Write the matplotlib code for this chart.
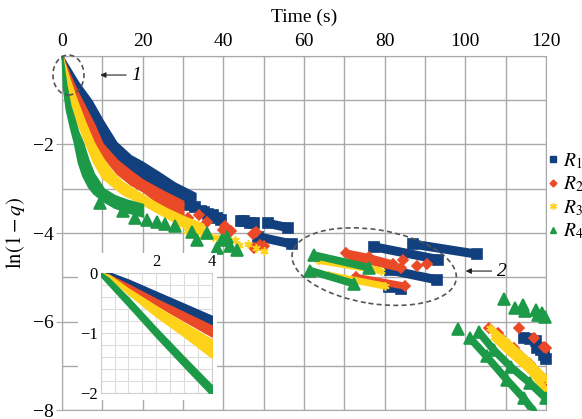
import numpy as np
import matplotlib.pyplot as plt
from matplotlib.patches import Ellipse, Rectangle
from matplotlib.transforms import IdentityTransform
from matplotlib.lines import Line2D

plt.rcParams['font.family'] = ['Liberation Serif', 'DejaVu Serif']
plt.rcParams['mathtext.fontset'] = 'stix'

# colours
c_r1 = '#123f7d'
c_r2 = '#ea4a28'
c_r3 = '#ffd21a'
c_r4 = '#1d9a47'
grid_c = '#a9a9a9'

# ---- dense bands (t, upper edge, lower edge) ----
r1_t = [0, 1, 2, 4, 7.2, 10, 13.4, 17, 20, 24, 28, 33]
r1_hi = [0, -0.15, -0.3, -0.6, -1.0, -1.45, -1.95, -2.25, -2.4, -2.63, -2.87, -3.1]
r1_lo = [0, -0.22, -0.45, -0.85, -1.43, -1.98, -2.33, -2.6, -2.8, -3.0, -3.2, -3.42]

r2_t = [0, 1, 2, 3.9, 6, 8, 10, 13.6, 17, 20, 25, 30]
r2_hi = [0, -0.22, -0.45, -0.83, -1.2, -1.56, -1.98, -2.35, -2.6, -2.8, -3.05, -3.28]
r2_lo = [0, -0.3, -0.55, -1.0, -1.5, -1.95, -2.25, -2.65, -2.9, -3.05, -3.4, -3.62]

r3_t = [0, 1, 2, 3.6, 5.7, 7.8, 10, 12.3, 15, 18.5, 22, 26, 30, 35]
r3_hi = [0, -0.3, -0.58, -1.0, -1.5, -1.95, -2.3, -2.6, -2.85, -3.05, -3.25, -3.45, -3.62, -3.8]
r3_lo = [0, -0.5, -1.0, -1.45, -1.95, -2.4, -2.75, -2.92, -3.12, -3.27, -3.45, -3.65, -3.85, -4.05]

r4_t = [0, 0.3, 1, 2, 3, 4, 5.1, 6.5, 7.8, 10.3, 13, 16, 20]
r4_hi = [0, -0.2, -0.65, -1.12, -1.41, -1.72, -1.95, -2.35, -2.65, -3.0, -3.15, -3.25, -3.35]
r4_lo = [0, -0.7, -1.2, -1.6, -1.95, -2.4, -2.7, -2.95, -3.1, -3.28, -3.42, -3.52, -3.62]

# ---- scattered points ----
r1_pt_t = [31.3, 33, 34.5, 35.3, 36.2, 37.5, 38.5, 39.5, 45, 46.5, 114.5, 116, 117.5, 117.8, 118.8, 119.6, 120]
r1_pt_y = [-3.37, -3.42, -3.5, -3.52, -3.57, -3.6, -3.65, -3.7, -3.74, -3.77, -6.38, -6.4, -6.45, -6.6, -6.65, -6.75, -6.85]
r2_pt_t = [31.3, 33, 34, 36, 40, 40.5, 42, 47.4, 48, 49, 50, 47.5, 84.6, 88, 90.5,
           105.8, 108, 113.2, 117, 119.4, 120]
r2_pt_y = [-3.66, -3.9, -3.6, -3.75, -3.93, -3.85, -3.95, -4.02, -3.98, -4.27, -4.3, -4.34, -4.6, -4.75, -4.69,
           -6.15, -6.27, -6.15, -6.37, -6.57, -6.6]
r3_pt_t = [28.5, 31, 33, 35, 37.5, 39, 41, 43, 44, 46, 48, 50]
r3_pt_y = [-3.86, -3.95, -3.98, -4.05, -4.09, -4.12, -4.2, -4.15, -4.28, -4.25, -4.35, -4.4]
r4_pt_t = [9.4, 15, 18.1, 21, 23.5, 25.5, 28, 32.2, 33.4, 36, 38.4, 39.6, 40.8, 41.6, 43.4,
           98.2, 109.5, 112.4, 114.3, 114.9, 117.4, 118.1, 119, 119.8]
r4_pt_y = [-3.33, -3.5, -3.67, -3.7, -3.75, -3.8, -3.85, -3.98, -4.16, -4.0, -4.34, -4.16, -4.1, -4.3, -4.38,
           -6.17, -5.5, -5.7, -5.63, -5.77, -5.75, -5.86, -5.8, -5.9]

# ---- runs of overlapping markers (polylines) ----
r1_runs_t = [[44.5, 47.5], [51, 56], [48.5, 57], [77.3, 93.3], [87, 103], [81.4, 93], [81, 84]]
r1_runs_y = [[-3.74, -3.78], [-3.78, -3.88], [-4.08, -4.25], [-4.31, -4.6], [-4.25, -4.48], [-4.84, -5.06], [-5.22, -5.26]]
r2_runs_t = [[70.5, 76, 82], [72, 84], [73, 85], [109, 112, 116, 120]]
r2_runs_y = [[-4.45, -4.55, -4.7], [-4.55, -4.8], [-5.0, -5.2], [-6.4, -6.6, -6.95, -7.35]]
r3_runs_t = [[63.5, 79], [66, 80], [106, 110, 115, 120], [107, 111, 116, 120]]
r3_runs_y = [[-4.62, -4.85], [-4.95, -5.2], [-6.15, -6.45, -6.85, -7.3], [-6.35, -6.7, -7.1, -7.55]]
r4_runs_t = [[62.5, 76], [61.5, 72.5], [103.3, 107, 111.2, 116.1, 120], [101.2, 105.3, 110.3, 114.5, 117]]
r4_runs_y = [[-4.5, -4.78], [-4.85, -5.15], [-6.23, -6.64, -7.02, -7.4, -7.74], [-6.38, -6.79, -7.32, -7.74, -8.04]]

# ---- inset (first 4 s) ----
in_t = [0, 0.3, 1, 2, 3, 4]
in_r1_hi = [0, 0, -0.12, -0.32, -0.52, -0.72]
in_r1_lo = [-0.02, -0.04, -0.2, -0.44, -0.66, -0.88]
in_r2_hi = [-0.02, -0.04, -0.2, -0.44, -0.66, -0.88]
in_r2_lo = [-0.02, -0.05, -0.25, -0.53, -0.79, -1.05]
in_r3_hi = [0, -0.04, -0.27, -0.56, -0.84, -1.11]
in_r3_lo = [-0.03, -0.08, -0.35, -0.72, -1.05, -1.4]
in_r4_hi = [0, -0.1, -0.42, -0.92, -1.4, -1.87]
in_r4_lo = [-0.05, -0.2, -0.55, -1.06, -1.55, -2.03]

labels = [r'$R_1$', r'$R_2$', r'$R_3$', r'$R_4$']
colors = [c_r1, c_r2, c_r3, c_r4]
markers = ['s', 'D', (6, 2, 0), '^']
msizes = [7, 5, 6, 8]
run_lw = [6.5, 5, 5, 5.5]
leg_ms = [4.5, 3.5, 5, 5]

fig = plt.figure(figsize=(5.82, 4.19), dpi=100)
ax = fig.add_axes([62 / 582, 1 - 410 / 419, 484 / 582, 354 / 419])

bands = [(r1_t, r1_hi, r1_lo), (r2_t, r2_hi, r2_lo), (r3_t, r3_hi, r3_lo), (r4_t, r4_hi, r4_lo)]
points = [(r1_pt_t, r1_pt_y), (r2_pt_t, r2_pt_y), (r3_pt_t, r3_pt_y), (r4_pt_t, r4_pt_y)]
runs = [(r1_runs_t, r1_runs_y), (r2_runs_t, r2_runs_y), (r3_runs_t, r3_runs_y), (r4_runs_t, r4_runs_y)]

for i in range(4):
    t, hi, lo = bands[i]
    ax.fill_between(t, lo, hi, color=colors[i], lw=1.5, ec=colors[i], zorder=3, clip_on=False)
    for rt, ry in zip(*runs[i]):
        ax.plot(rt, ry, color=colors[i], lw=run_lw[i], solid_capstyle='butt', zorder=3)
        ax.plot(rt, ry, ls='none', marker=markers[i], ms=msizes[i], color=colors[i],
                mew=1.2, zorder=3)
    ax.plot(points[i][0], points[i][1], ls='none', marker=markers[i], ms=msizes[i],
            color=colors[i], mew=1.2, zorder=3, clip_on=False)

ax.set_xlim(0, 120)
ax.set_ylim(-8, 0)
ax.xaxis.tick_top()
ax.xaxis.set_label_position('top')
ax.set_xticks(np.arange(0, 121, 20))
ax.set_xticks(np.arange(0, 121, 10), minor=True)
ax.set_yticks([-8, -6, -4, -2])
ax.set_yticks(np.arange(-8, 1, 1), minor=True)
ax.grid(which='both', color=grid_c, lw=1)
ax.set_axisbelow(True)
ax.tick_params(axis='x', which='both', length=0, pad=4, labelsize=14)
ax.tick_params(axis='y', which='major', length=4, color=grid_c, pad=2, labelsize=14)
ax.tick_params(axis='y', which='minor', length=0)
for s in ax.spines.values():
    s.set_color(grid_c)
ax.set_xlabel('Time (s)', fontsize=14, labelpad=8)
ax.set_ylabel(r'$\mathrm{ln}(1-q)$', fontsize=15, labelpad=4)

# white background for the inset
fig.patches.append(Rectangle((78 / 582, 1 - 400 / 419), 139 / 582, 147 / 419,
                             transform=fig.transFigure, fc='white', ec='none', zorder=1))

ins = fig.add_axes([100.7 / 582, 1 - 393.3 / 419, 111 / 582, 120.6 / 419])
ins.set_zorder(2)
in_bands = [(in_r1_hi, in_r1_lo), (in_r2_hi, in_r2_lo), (in_r3_hi, in_r3_lo), (in_r4_hi, in_r4_lo)]
for i in range(4):
    ins.fill_between(in_t, in_bands[i][1], in_bands[i][0], color=colors[i], lw=1.5, ec=colors[i], zorder=3)
ins.set_xlim(0, 4)
ins.set_ylim(-2, 0)
ins.xaxis.tick_top()
ins.set_xticks([2, 4])
ins.set_xticks(np.arange(0, 4.01, 0.5), minor=True)
ins.set_yticks([-2, -1, 0])
ins.set_yticks(np.arange(-2, 0.01, 0.2), minor=True)
ins.grid(which='both', color='#dcdcdc', lw=0.8)
ins.set_axisbelow(True)
ins.tick_params(which='both', length=0, labelsize=12, pad=2)
for s in ins.spines.values():
    s.set_color('#cfcfcf')

# annotations
fig.canvas.draw()
cx, cy = ax.transData.transform((1.6, -0.43))
ax.add_patch(Ellipse((cx, cy), 31, 40, angle=0, transform=IdentityTransform(), fill=False,
                     ec='#555555', ls=(0, (3, 2)), lw=1.2, zorder=5, clip_on=False))
cx, cy = ax.transData.transform((77.4, -4.76))
ax.add_patch(Ellipse((cx, cy), 166, 74, angle=-9, transform=IdentityTransform(), fill=False,
                     ec='#555555', ls=(0, (3, 2)), lw=1.2, zorder=5, clip_on=False))
ax.annotate('', xy=(8.8, -0.43), xytext=(16.6, -0.43),
            arrowprops=dict(arrowstyle='-|>', color='#222222', lw=0.8, mutation_scale=8))
ax.text(17.3, -0.43, '1', fontsize=14, fontstyle='italic', ha='left', va='center')
ax.annotate('', xy=(99.4, -4.86), xytext=(107.2, -4.86), annotation_clip=False,
            arrowprops=dict(arrowstyle='-|>', color='#222222', lw=0.8, mutation_scale=8))
ax.text(107.8, -4.86, '2', fontsize=14, fontstyle='italic', ha='left', va='center', clip_on=False)

# legend
handles = [Line2D([], [], ls='none', marker=markers[i], color=colors[i], ms=leg_ms[i], mew=1.0)
           for i in range(4)]
fig.legend(handles, labels, loc='upper left', bbox_to_anchor=(547 / 582, 1 - 151 / 419),
           frameon=False, fontsize=14, handlelength=0.6, handletextpad=0.2,
           labelspacing=0.2, borderpad=0, borderaxespad=0)

fig.savefig('out.png', dpi=100)
